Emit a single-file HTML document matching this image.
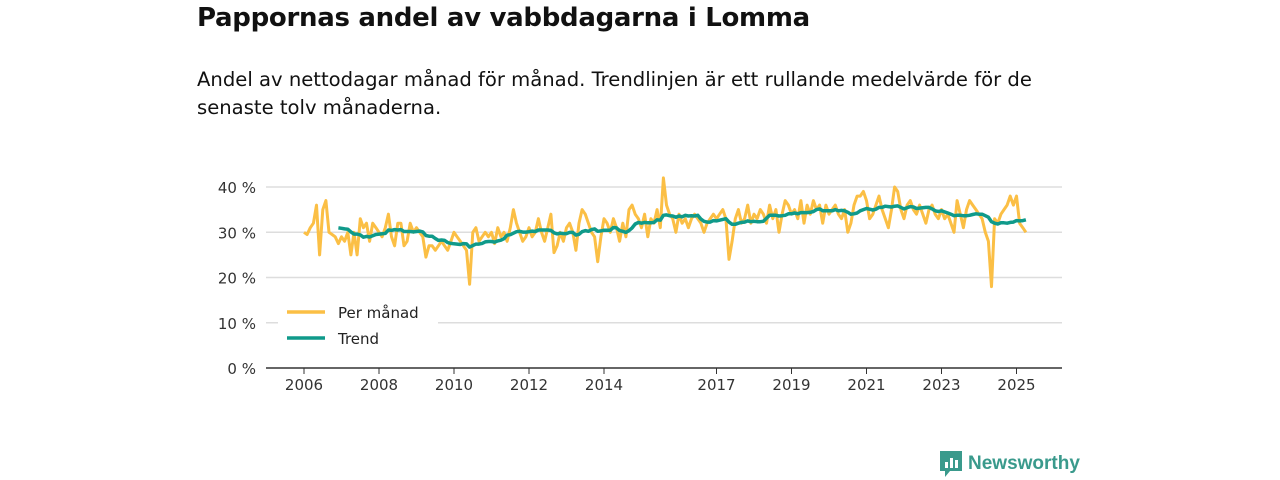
<!DOCTYPE html>
<html><head><meta charset="utf-8"><style>
body{margin:0;width:1280px;height:480px;background:#fff;font-family:"DejaVu Sans",sans-serif;color:#111;overflow:hidden;position:relative}
h1{position:absolute;left:197px;top:3px;margin:0;font-size:26px;font-weight:bold;letter-spacing:-0.3px}
p{position:absolute;left:197px;top:66px;margin:0;font-size:19.6px;line-height:28px;width:870px}
</style></head><body>
<h1>Pappornas andel av vabbdagarna i Lomma</h1>
<p>Andel av nettodagar månad för månad. Trendlinjen är ett rullande medelvärde för de senaste tolv månaderna.</p>
<svg id="chart" width="1280" height="480" style="position:absolute;left:0;top:0" font-family="DejaVu Sans, sans-serif"></svg>
<div style="position:absolute;left:940px;top:451px;display:flex;align-items:center;font-size:19px;font-weight:bold;color:#3a9a8c;font-family:'Liberation Sans',sans-serif">
<svg width="22" height="26" viewBox="0 0 22 26"><path d="M0 0h22v20H10l-5 6v-6H0z" fill="#3a9a8c"/><rect x="5" y="11" width="3" height="6" fill="#fff"/><rect x="10" y="7" width="3" height="10" fill="#fff"/><rect x="15" y="9" width="3" height="8" fill="#fff"/></svg>
<span style="margin-left:6px">Newsworthy</span></div>
<script>
const yTicks=[0,10,20,30,40];
const xTicks=[2006,2008,2010,2012,2014,2017,2019,2021,2023,2025];
const startYear=2006;
const perMonth=[
30,29.5,31,32,36,25,35,37,30,29.5,29,27.5,
29,28,30,25,30,25,33,31,32,28,32,31,
30,29,31,34,29,27,32,32,27,28,32,30,
31,30,29,24.5,27,27,26,27,28,27,26,28,
30,29,28,27,26,18.5,30,31,28,29,30,29,
30,27.5,31,29,30,28,31,35,32,30,28,29,
31,29,30,33,30,28,31,34,25.5,27,30,28,
31,32,30,26,32,35,34,32,30,29,23.5,29,
33,32,30,33,31,28,32,29,35,36,34,33,
31,34,29,33,32,35,31,42,36,34,33,30,
34,32,33,31,33,34,33,32,30,32,33,34,
33,34,35,33,24,28,33,35,32,33,36,32,
34,33,35,34,32,36,33,35,30,34,37,36,
34,35,33,37,32,36,34,37,35,36,32,36,
34,35,36,34,33,35,30,32,36,38,38,39,
37,33,34,36,38,35,33,31,35,40,39,35,
33,36,37,35,34,36,34,32,35,36,34,33,
35,33,34,32,30,37,34,31,35,37,36,35,
34,33,30,28,18,33,32,34,35,36,38,36,
38,32,31,30];
const svg=document.getElementById('chart');const NS='http://www.w3.org/2000/svg';
const L=266,R=1062,Y0=368,Y40=187;
const x=t=>304+(t-2006)*37.5;
const y=v=>Y0+(Y40-Y0)*v/40;
function mk(tag,attrs){const e=document.createElementNS(NS,tag);for(const k in attrs)e.setAttribute(k,attrs[k]);svg.appendChild(e);return e;}
yTicks.forEach(v=>{
 const g=mk('line',{x1:L,x2:R,y1:y(v),y2:y(v),stroke:v===0?'#333':'#ddd','stroke-width':1.5});
 
 
 const t=mk('text',{x:256,y:y(v)+6,'text-anchor':'end','font-size':15,fill:'#333'});t.textContent=v+' %';
 
 
});
xTicks.forEach(yr=>{
 const tk=mk('line',{x1:x(yr),x2:x(yr),y1:Y0,y2:Y0+6,stroke:'#333','stroke-width':1});
 
 
 const t=mk('text',{x:x(yr),y:Y0+22,'text-anchor':'middle','font-size':15,fill:'#333'});t.textContent=yr;
 
 
});
const pts=perMonth.map((v,i)=>x(startYear+i/12).toFixed(1)+','+y(v).toFixed(1));
const pl=mk('polyline',{points:pts.join(' '),fill:'none',stroke:'#fbbf45','stroke-width':3,'stroke-linejoin':'round'});


const tp=[];
for(let i=11;i<perMonth.length;i++){let s=0;for(let j=i-11;j<=i;j++)s+=perMonth[j];tp.push(x(startYear+i/12).toFixed(1)+','+y(s/12).toFixed(1));}
const tl=mk('polyline',{points:tp.join(' '),fill:'none',stroke:'#0f9a8a','stroke-width':3.5,'stroke-linejoin':'round'});


const lb=mk('rect',{x:278,y:297,width:160,height:58,fill:'#fff'});


[['Per månad','#fbbf45',312],['Trend','#0f9a8a',338]].forEach(([n,c,yy])=>{
 const l=mk('line',{x1:287,x2:325,y1:yy,y2:yy,stroke:c,'stroke-width':3.5});
 
 
 const t=mk('text',{x:338,y:yy+6,'font-size':15,fill:'#222'});t.textContent=n;
 
 
});
</script>
</body></html>
